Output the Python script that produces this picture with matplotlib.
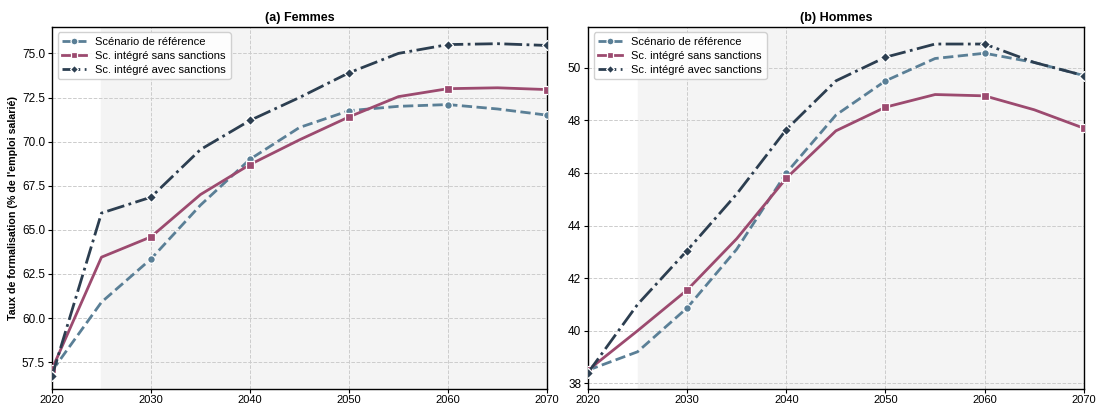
import matplotlib
matplotlib.use("Agg")
import matplotlib.pyplot as plt

plt.rcParams['font.family'] = ['Liberation Sans', 'DejaVu Sans']

years = [2020, 2025, 2030, 2035, 2040, 2045, 2050, 2055, 2060, 2065, 2070]

f_ref = [57.0, 60.9, 63.35, 66.4, 69.0, 70.8, 71.75, 72.0, 72.1, 71.85, 71.5]
f_sans = [57.1, 63.45, 64.6, 67.0, 68.7, 70.1, 71.4, 72.55, 73.0, 73.05, 72.95]
f_avec = [56.7, 65.95, 66.85, 69.55, 71.2, 72.5, 73.9, 75.0, 75.5, 75.55, 75.45]

h_ref = [38.5, 39.2, 40.87, 43.1, 46.0, 48.2, 49.5, 50.35, 50.55, 50.2, 49.7]
h_sans = [38.5, 40.0, 41.55, 43.5, 45.8, 47.6, 48.5, 48.98, 48.93, 48.4, 47.7]
h_avec = [38.4, 41.0, 43.05, 45.2, 47.65, 49.5, 50.4, 50.9, 50.9, 50.2, 49.7]

labels = ["Scénario de référence", "Sc. intégré sans sanctions", "Sc. intégré avec sanctions"]
colors = ["#5a7f96", "#9c4a6f", "#2c3e50"]
styles = ["--", "-", "-."]
markers = ["o", "s", "D"]

fig = plt.figure(figsize=(10.97, 4.05), dpi=100)
ax1 = fig.add_axes([0.0474, 0.0405, 0.4512, 0.893])
ax2 = fig.add_axes([0.536, 0.0405, 0.452, 0.893])

def draw(ax, series, title, ylim, yticks, fmt):
    ax.axvspan(2025, 2070, color="#f4f4f4", zorder=0)
    for s, lab, c, ls, m in zip(series, labels, colors, styles, markers):
        ax.plot(years, s, ls, color=c, lw=2, marker=m, markevery=2,
                markersize=5.5 if m != "D" else 4.8, markeredgecolor="white",
                markeredgewidth=0.9, label=lab, zorder=3)
    ax.set_xlim(2020, 2070)
    ax.set_ylim(*ylim)
    ax.set_xticks([2020, 2030, 2040, 2050, 2060, 2070])
    ax.set_yticks(yticks)
    ax.set_yticklabels([fmt.format(v) for v in yticks])
    ax.tick_params(axis="y", labelsize=8.5, length=3, pad=2)
    ax.tick_params(axis="x", labelsize=8, length=3, pad=1.5)
    ax.grid(True, ls="--", color="#cccccc", lw=0.7)
    ax.set_axisbelow(True)
    ax.set_title(title, fontsize=9, fontweight="bold", pad=4)
    ax.legend(loc="upper left", fontsize=8, frameon=True, fancybox=True,
              framealpha=0.9, edgecolor="#cccccc", handlelength=2.2,
              borderpad=0.4, labelspacing=0.35, markerscale=0.9)
    for sp in ax.spines.values():
        sp.set_color("black")
        sp.set_linewidth(1)

draw(ax1, [f_ref, f_sans, f_avec], "(a) Femmes", (56.0, 76.5),
     [57.5, 60.0, 62.5, 65.0, 67.5, 70.0, 72.5, 75.0], "{:.1f}")
draw(ax2, [h_ref, h_sans, h_avec], "(b) Hommes", (37.8, 51.55),
     [38, 40, 42, 44, 46, 48, 50], "{:.0f}")

ax1.set_ylabel("Taux de formalisation (% de l'emploi salarié)", fontsize=7.7,
               fontweight="bold", labelpad=3)

fig.savefig("out.png", dpi=100)
